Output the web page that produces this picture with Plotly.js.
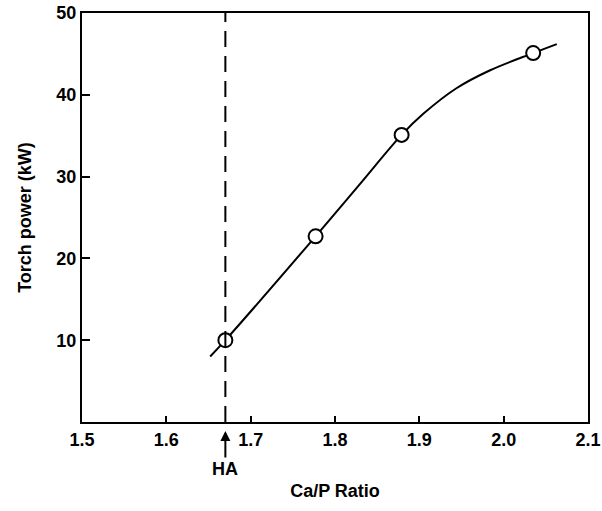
<!DOCTYPE html>
<html>
<head>
<meta charset="utf-8">
<script src="https://cdn.plot.ly/plotly-3.0.1.min.js"></script>
<style>html,body{margin:0;padding:0;background:#fff;}#chart{width:602px;height:511px;}</style>
</head>
<body>
<div id="chart"></div>
<script>
// Measured points (Ca/P ratio vs torch power)
const ratio = [1.67, 1.777, 1.879, 2.035];
const power = [10.0, 22.7, 35.1, 45.1];
// Fitted curve as drawn in the figure
const curveRatio = [1.652, 1.67, 1.777, 1.828, 1.879, 1.905, 1.944, 1.984, 2.035, 2.063];
const curvePower = [8.0, 10.0, 22.7, 28.9, 35.1, 37.7, 40.8, 43.0, 45.1, 46.2];
const haRatio = 1.67;
const xTicks = [1.5, 1.6, 1.7, 1.8, 1.9, 2.0, 2.1];
const yTicks = [10, 20, 30, 40, 50];

const fam = '"Liberation Sans", Arial, sans-serif';
const bf = {family: fam, size: 18, color: '#000', weight: 'bold'};

const traces = [
  {x: curveRatio, y: curvePower, mode: 'lines', line: {color: '#000', width: 2, shape: 'spline', smoothing: 1}, hoverinfo: 'skip', showlegend: false},
  {x: ratio, y: power, mode: 'markers', marker: {symbol: 'circle', size: 14, color: '#fff', line: {color: '#000', width: 2}}, showlegend: false}
];

const layout = {
  width: 602, height: 511,
  margin: {l: 82, r: 14, t: 13, b: 89},
  paper_bgcolor: '#fff', plot_bgcolor: '#fff',
  font: bf,
  showlegend: false,
  xaxis: {
    range: [1.5, 2.1], tickvals: xTicks, ticktext: xTicks.map(v => v.toFixed(1)),
    ticks: 'inside', ticklen: 6, tickwidth: 2, tickcolor: '#000',
    showline: true, linewidth: 2, linecolor: '#000', mirror: true,
    showgrid: false, zeroline: false,
    tickfont: bf,
    title: {text: 'Ca/P Ratio', font: bf, standoff: 36}
  },
  yaxis: {
    range: [0, 50], tickvals: yTicks,
    ticks: 'inside', ticklen: 8, tickwidth: 2, tickcolor: '#000',
    showline: true, linewidth: 2, linecolor: '#000', mirror: true,
    showgrid: false, zeroline: false,
    tickfont: bf,
    title: {text: 'Torch power (kW)', font: bf, standoff: 20}
  },
  shapes: [
    {type: 'line', xref: 'x', yref: 'paper', x0: haRatio, x1: haRatio, y0: 0, y1: 1,
     line: {color: '#000', width: 2, dash: '16px,9px'}}
  ],
  annotations: [
    {xref: 'x', yref: 'paper', x: haRatio, y: -0.022, text: 'HA', showarrow: true,
     arrowhead: 2, arrowsize: 1, arrowwidth: 2, arrowcolor: '#000', ax: 0, ay: 38,
     font: bf}
  ]
};

Plotly.newPlot('chart', traces, layout, {displayModeBar: false, staticPlot: true});
</script>
</body>
</html>
